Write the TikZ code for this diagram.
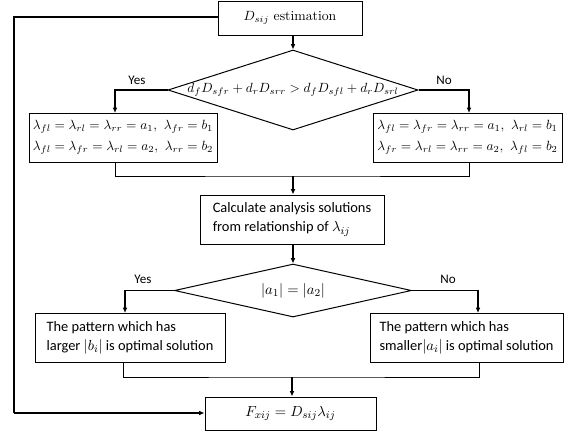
\documentclass[tikz,border=0pt]{standalone}
\usepackage{fontspec}
\usetikzlibrary{shapes.geometric,arrows.meta}
\newfontfamily\calibri{Carlito}
\begin{document}
\begin{tikzpicture}[x=0.75pt,y=-0.75pt,
  box/.style={draw,line width=0.75pt,inner sep=0pt,align=center,font=\calibri\fontsize{10.8}{14.2}\selectfont},
  mbox/.style={draw,line width=0.75pt,inner sep=0pt,align=center,font=\fontsize{10.3}{13}\selectfont},
  lbox/.style={box,align=left},
  dia/.style={draw,shape=diamond,line width=0.75pt,inner sep=0pt},
  thin/.style={line width=0.75pt},
  thick/.style={line width=1.2pt},
  arr/.style={line width=1.3pt,-{Latex[length=4pt,width=3.5pt]}},
  lab/.style={inner sep=0pt,font=\calibri\fontsize{9.8}{11}\selectfont}]
\useasboundingbox (0,0) rectangle (569,436);
% nodes
\node[mbox,minimum width=108pt,minimum height=25.5pt] (top) at (290,18) {$D_{sij}$ estimation};
\node[dia,minimum width=187.5pt,minimum height=60pt] (d1) at (293,90) {};
\node[inner sep=0pt,font=\fontsize{10.3}{13}\selectfont] (d1t) at (d1.center) {$d_fD_{sfr}+d_rD_{srr}>d_fD_{sfl}+d_rD_{srl}$};
\node[mbox,minimum width=141pt,minimum height=36.75pt] (lb1) at (123,137.5)
  {$\lambda_{fl}=\lambda_{rl}=\lambda_{rr}=a_1,\ \lambda_{fr}=b_1$\\[3pt]$\lambda_{fl}=\lambda_{fr}=\lambda_{rl}=a_2,\ \lambda_{rr}=b_2$};
\node[mbox,minimum width=141.75pt,minimum height=36.75pt] (rb1) at (467.5,137.5)
  {$\lambda_{fl}=\lambda_{fr}=\lambda_{rr}=a_1,\ \lambda_{rl}=b_1$\\[3pt]$\lambda_{fr}=\lambda_{rl}=\lambda_{rr}=a_2,\ \lambda_{fl}=b_2$};
\node[lbox,minimum width=138pt,minimum height=36.75pt] (calc) at (292,219.5)
  {Calculate analysis solutions\\from relationship of $\lambda_{ij}$};
\node[dia,minimum width=177.75pt,minimum height=39.75pt] (d2) at (293,290.5) {};
\node[inner sep=0pt,font=\fontsize{10.8}{13}\selectfont] (d2t) at (d2.center) {$|a_1|=|a_2|$};
\node[lbox,minimum width=142.5pt,minimum height=36.75pt] (lb2) at (130,337.5)
  {The pattern which has\\larger $|b_i|$ is optimal solution};
\node[lbox,minimum width=144.75pt,minimum height=36.75pt] (rb2) at (466.5,337.5)
  {The pattern which has\\smaller$|a_i|$ is optimal solution};
\node[mbox,minimum width=128.25pt,minimum height=24.75pt,font=\fontsize{10.8}{13}\selectfont] (fin) at (290.5,413.5) {$F_{xij}=D_{sij}\lambda_{ij}$};
% labels
\node[lab] (y1) at (137,80) {Yes};
\node[lab] (n1) at (444,80) {No};
\node[lab] (y2) at (143,279) {Yes};
\node[lab] (n2) at (448,279) {No};
% helper coordinates
\coordinate (a1) at (115,113);
\coordinate (a2) at (469,113);
\coordinate (m1l) at (115,162);
\coordinate (m1r) at (469,162);
\coordinate (m1) at (293,176);
\coordinate (a3) at (125,313);
\coordinate (a4) at (478,313);
\coordinate (m2l) at (123,362);
\coordinate (m2r) at (479,362);
\coordinate (m2) at (292,377);
\coordinate (fb1) at (14,17);
\coordinate (fb2) at (14,413);
% connectors
\draw[arr] (d1.north |- top.south) -- (d1.north);
\draw[thick] (d1.west) -| ([yshift=6pt]a1);
\draw[arr] ([yshift=6pt]a1) -- (a1);
\draw[thick] (d1.east) -| ([yshift=6pt]a2);
\draw[arr] ([yshift=6pt]a2) -- (a2);
\draw[thin] (m1l) |- (m1) -| (m1r);
\draw[arr] (m1) -- (calc.north -| m1);
\draw[arr] (calc.south -| d2.north) -- (d2.north);
\draw[thick] (d2.west) -| ([yshift=6pt]a3);
\draw[arr] ([yshift=6pt]a3) -- (a3);
\draw[thick] (d2.east) -| ([yshift=6pt]a4);
\draw[arr] ([yshift=6pt]a4) -- (a4);
\draw[thin] (m2l) |- (m2) -| (m2r);
\draw[arr] (m2) -- (fin.north -| m2);
\draw[thick] (top.west |- fb1) -- (fb1) -- (fb2);
\draw[arr] (fb2) -- (fin.west |- fb2);
\end{tikzpicture}
\end{document}
